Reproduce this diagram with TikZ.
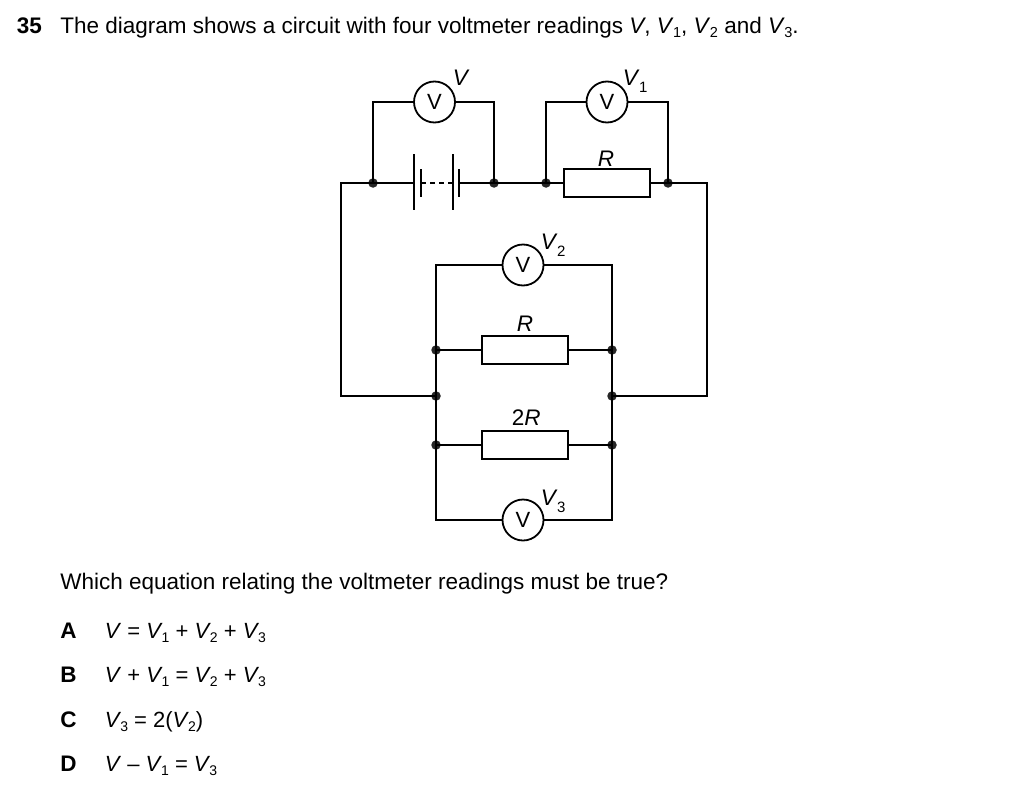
\documentclass[tikz,border=0pt]{standalone}
\usepackage{fontspec}
\setmainfont{Liberation Sans}
\usetikzlibrary{positioning,calc}
\newcommand{\vr}[1]{\textit{V}\kern-0.5pt\raisebox{-4pt}{\fontsize{14.5}{15}\selectfont #1}}
\newcommand{\vo}[1]{\textit{V}\kern-1pt\raisebox{-4pt}{\fontsize{14}{15}\selectfont #1}}
\newcommand{\vd}[1]{\textit{V}\kern-0.5pt\raisebox{-7pt}{\fontsize{15}{15}\selectfont #1}}
\begin{document}
\begin{tikzpicture}[
  x=1pt, y=-1pt, line width=1.8pt, line join=miter,
  font=\fontsize{22.5}{26}\selectfont,
  meter/.style={circle,draw,fill=white,minimum size=41pt,inner sep=0pt,font=\fontsize{22}{26}\selectfont},
  res/.style={rectangle,draw,fill=white,minimum width=86pt,minimum height=28pt,inner sep=0pt},
  dot/.style={circle,fill=black!85,minimum size=9.5pt,inner sep=0pt},
  lbl/.style={inner sep=0pt,anchor=base west},
  txt/.style={inner sep=0pt,anchor=base west},
  opt/.style={txt,font=\fontsize{22}{26}\selectfont},
  wire/.style={line width=1.8pt},
  plate/.style={line width=1.8pt},
]
\useasboundingbox (0,0) rectangle (1024,800);
% top row
\node[meter] (vm)  at (434.5,102) {V};
\node[meter] (vma) at (607,102)   {V};
\node[res]   (ra)  at (607,183)   {};
\node[dot] (ja) at (373,183) {};
\node[dot] (jb) at (494,183) {};
\node[dot] (jc) at (546,183) {};
\node[dot] (jd) at (668,183) {};
% battery
\coordinate (pa) at (414,183);
\coordinate (pb) at (421,183);
\coordinate (pc) at (453,183);
\coordinate (pd) at (459,183);
\draw[plate] ($(pa)+(0,-29)$) -- ($(pa)+(0,27)$);
\draw[plate] ($(pb)+(0,-14)$) -- ($(pb)+(0,14)$);
\draw[plate] ($(pc)+(0,-29)$) -- ($(pc)+(0,27)$);
\draw[plate] ($(pd)+(0,-14)$) -- ($(pd)+(0,14)$);
\draw[wire,dash pattern=on 5pt off 4pt] (pb) -- (pc);
% lower block
\node[meter] (vmb) at (523,265) {V};
\node[meter] (vmc) at (523,520) {V};
\node[res] (rb) at (525,350) {};
\node[res] (rc) at (525,445) {};
\node[dot] (ka) at (436,350) {};
\node[dot] (kb) at (436,396) {};
\node[dot] (kc) at (436,445) {};
\node[dot] (la) at (612,350) {};
\node[dot] (lb) at (612,396) {};
\node[dot] (lc) at (612,445) {};
% outer wire corners
\coordinate (oa) at (341,183);
\coordinate (ob) at (341,396);
\coordinate (oc) at (707,183);
\coordinate (od) at (707,396);
\coordinate (ta) at (436,265);
\coordinate (tb) at (612,265);
\coordinate (ba) at (436,520);
\coordinate (bb) at (612,520);
% wires
\draw[wire] (kb.center) -- (ob) -- (oa) -- (pa);
\draw[wire] (pd) -- (jb.center) -- (jc.center) -- (ra.west);
\draw[wire] (ra.east) -- (jd.center) -- (oc) -- (od) -- (lb.center);
\draw[wire] (ja.center) |- (vm.west);
\draw[wire] (jb.center) |- (vm.east);
\draw[wire] (jc.center) |- (vma.west);
\draw[wire] (jd.center) |- (vma.east);
\draw[wire] (vmb.west) -- (ta) -- (ba) -- (vmc.west);
\draw[wire] (vmb.east) -- (tb) -- (bb) -- (vmc.east);
\draw[wire] (ka.center) -- (rb.west);
\draw[wire] (rb.east) -- (la.center);
\draw[wire] (kc.center) -- (rc.west);
\draw[wire] (rc.east) -- (lc.center);
% circuit labels
\node[lbl] (lv)  at (452,85)  {\textit{V}};
\node[lbl] (lva) at (622,85)  {\vd{1}};
\node[lbl] (lvb) at (540,249) {\vd{2}};
\node[lbl] (lvc) at (540,505) {\vd{3}};
\node[lbl] (lra) at (597,166) {\textit{R}};
\node[lbl] (lrb) at (516,331) {\textit{R}};
\node[lbl] (lrc) at (511,425) {2\textit{R}};
% question text
\node[txt] (qn)  at (16,34)  {\textbf{35}};
\node[txt] (qt)  at (59.5,34)  {The diagram shows a circuit with four voltmeter readings \textit{V}, \vr{1}, \vr{2} and \vr{3}.};
\node[txt] (qb)  at (59.5,589) {Which equation relating the voltmeter readings must be true?};
\node[txt] (oaa) at (59.5,638) {\textbf{A}};
\node[opt] (oat) at (104,638) {\textit{V} = \vo{1} + \vo{2} + \vo{3}};
\node[txt] (oba) at (59.5,682) {\textbf{B}};
\node[opt] (obt) at (104,682) {\textit{V} + \vo{1} = \vo{2} + \vo{3}};
\node[txt] (oca) at (59.5,727) {\textbf{C}};
\node[opt] (oct) at (104,727) {\vo{3} = 2(\vo{2})};
\node[txt] (oda) at (59.5,771) {\textbf{D}};
\node[opt] (odt) at (104,771) {\textit{V} – \vo{1} = \vo{3}};
\end{tikzpicture}
\end{document}
